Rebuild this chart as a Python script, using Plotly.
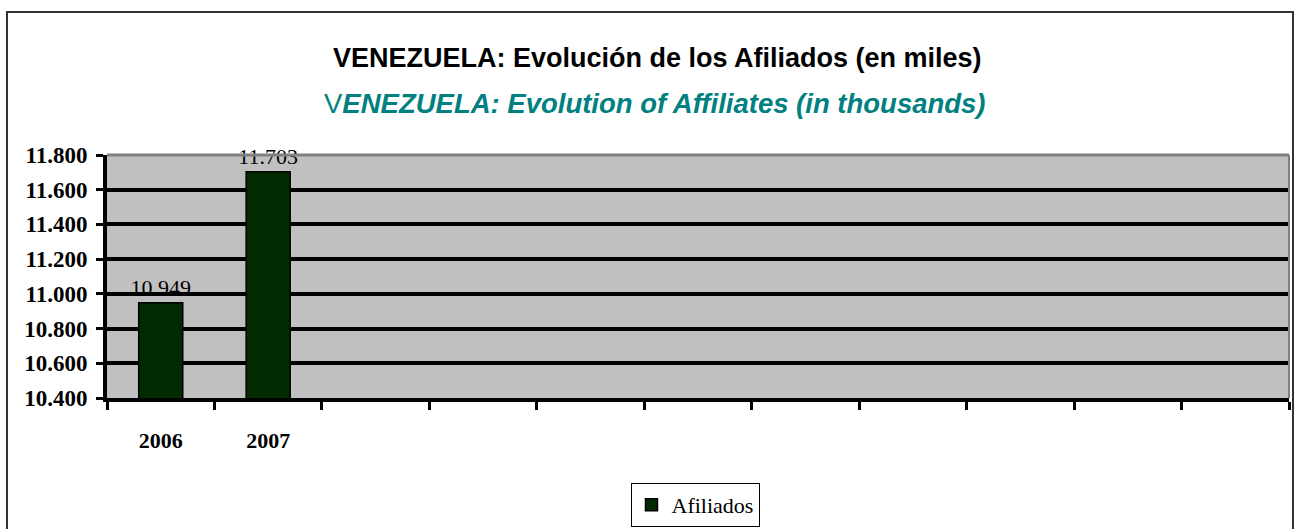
import plotly.graph_objects as go

# Data
years = ["2006", "2007"]
empty_slots = [" " * k for k in range(1, 10)]
categories = years + empty_slots
afiliados = [10949, 11703]
values = afiliados + [None] * len(empty_slots)
y_ticks = [10400, 10600, 10800, 11000, 11200, 11400, 11600, 11800]

title_es = "VENEZUELA: Evolución de los Afiliados (en miles)"
title_en_first = "V"
title_en_rest = "ENEZUELA: Evolution of Affiliates (in thousands)"
series_name = "Afiliados"

W, H = 1294, 529
L, R, T, B = 107, 5, 155, 131
plot_w = W - L - R
plot_h = H - T - B


def px_x(px):
    return (px - L) / plot_w


def px_y(py):
    return (H - B - py) / plot_h


fig = go.Figure()
fig.add_trace(go.Bar(
    x=categories,
    y=values,
    name=series_name,
    width=0.41,
    marker=dict(color="#012a01", line=dict(color="#000000", width=1.5)),
    text=[f"{v:,}".replace(",", ".") if v is not None else "" for v in values],
    textposition="outside",
    constraintext="none",
    textfont=dict(family="Liberation Serif", size=22, color="#000000"),
    cliponaxis=False,
    showlegend=True,
))

fig.update_layout(
    width=W, height=H,
    margin=dict(l=L, r=R, t=T, b=B, autoexpand=False),
    paper_bgcolor="#ffffff",
    plot_bgcolor="#c0c0c0",
    separators=",.",
    bargap=0.59,
    showlegend=True,
    legend=dict(
        orientation="h",
        x=px_x(695), xanchor="center",
        y=px_y(505), yanchor="middle",
        bgcolor="#ffffff",
        bordercolor="#000000",
        borderwidth=1,
        font=dict(family="Liberation Serif", size=22, color="#000000"),
        itemwidth=30,
    ),
    xaxis=dict(
        type="category",
        categoryorder="array",
        categoryarray=categories,
        range=[-0.5, len(categories) - 0.5],
        tickson="boundaries",
        ticks="outside",
        ticklen=8,
        tickwidth=3,
        tickcolor="#000000",
        showline=True,
        linecolor="#000000",
        linewidth=4,
        showgrid=False,
        tickfont=dict(family="Liberation Serif", size=22, color="#000000", weight="bold"),
        ticklabelstandoff=20,
    ),
    yaxis=dict(
        range=[10400, 11800],
        tickvals=y_ticks,
        tickformat=",.0f",
        ticks="outside",
        ticklen=7,
        tickwidth=3,
        tickcolor="#000000",
        showline=True,
        linecolor="#000000",
        linewidth=4,
        showgrid=True,
        gridcolor="#000000",
        gridwidth=4,
        zeroline=False,
        tickfont=dict(family="Liberation Serif", size=23, color="#000000", weight="bold"),
        ticklabelstandoff=4,
    ),
    annotations=[
        dict(
            text=f"<b>{title_es}</b>",
            x=px_x(657), y=px_y(58), xref="paper", yref="paper",
            xanchor="center", yanchor="middle", showarrow=False,
            font=dict(family="Liberation Sans", size=27, color="#000000"),
        ),
        dict(
            text=f"<span style='font-weight:normal'>{title_en_first}</span><b><i>{title_en_rest}</i></b>",
            x=px_x(655), y=px_y(103), xref="paper", yref="paper",
            xanchor="center", yanchor="middle", showarrow=False,
            font=dict(family="Liberation Sans", size=27.5, color="#008080"),
        ),
    ],
    shapes=[
        # outer chart border
        dict(type="rect", xref="paper", yref="paper",
             x0=px_x(7), x1=px_x(1293), y0=px_y(540), y1=px_y(12),
             line=dict(color="#333333", width=2), layer="below"),
        # plot area top and right borders
        dict(type="line", xref="paper", yref="paper",
             x0=0, x1=1, y0=1, y1=1,
             line=dict(color="#808080", width=3), layer="above"),
        dict(type="line", xref="paper", yref="paper",
             x0=1, x1=1, y0=0, y1=1,
             line=dict(color="#808080", width=2), layer="above"),
    ],
)

fig.write_html(
    "out.html",
    config={"displayModeBar": False},
    post_script="document.body.style.margin='0px';document.body.style.overflow='hidden';",
)
